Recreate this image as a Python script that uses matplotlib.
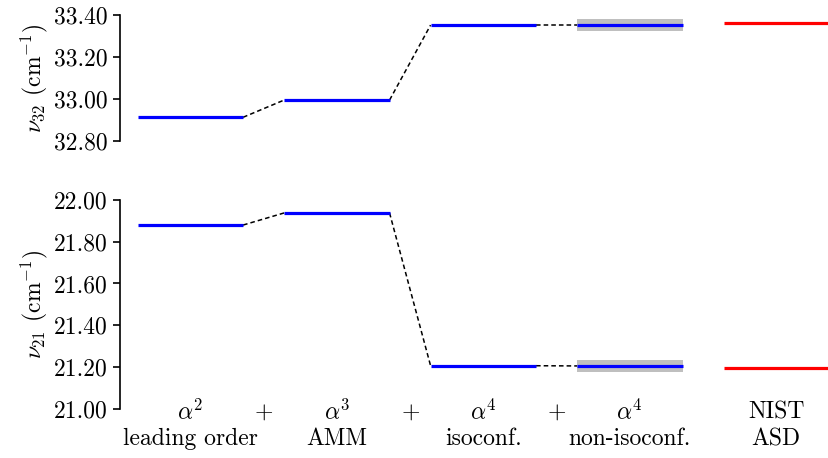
import matplotlib
matplotlib.use("Agg")
import matplotlib.pyplot as plt
from matplotlib.transforms import blended_transform_factory

plt.rcParams.update({
    "font.family": "serif",
    "font.serif": ["cmr10"],
    "mathtext.fontset": "cm",
    "axes.formatter.use_mathtext": True,
    "font.size": 17,
})

# Contributions to the transition frequencies (cm^-1)
stage_orders = ["$\\alpha^2$", "$\\alpha^3$", "$\\alpha^4$", "$\\alpha^4$", "NIST"]
stage_names = ["leading order", "AMM", "isoconf.", "non-isoconf.", "ASD"]
nu32_theory = [32.913, 32.995, 33.352, 33.352]
nu21_theory = [21.880, 21.938, 21.206, 21.205]
nu32_unc = 0.030
nu21_unc = 0.030
nu32_nist = 33.363
nu21_nist = 21.195

half = 0.36

fig = plt.figure(figsize=(8.29, 4.58), dpi=100)
ax_top = fig.add_axes([0.1448, 0.6921, 0.8552, 0.2751])
ax_bot = fig.add_axes([0.1448, 0.1076, 0.8552, 0.4557])


def draw_panel(ax, theory, unc, nist, ylim, yticks, ylabel):
    xs = list(range(len(theory)))
    # gray uncertainty band on the final theory value
    ax.fill_between([xs[-1] - half, xs[-1] + half], theory[-1] - unc, theory[-1] + unc,
                    color="#bfbfbf", lw=0, zorder=1)
    for i, v in enumerate(theory):
        ax.plot([i - half, i + half], [v, v], color="blue", lw=2.3,
                solid_capstyle="butt", zorder=3)
    for i in range(len(theory) - 1):
        ax.plot([i + half, i + 1 - half], [theory[i], theory[i + 1]],
                color="black", lw=1.1, ls=(0, (3, 2)), zorder=2)
    n = len(theory)
    ax.plot([n - half, n + half], [nist, nist], color="red", lw=2.3,
            solid_capstyle="butt", zorder=3)
    ax.set_xlim(-0.48, 4.36)
    ax.set_ylim(*ylim)
    ax.set_yticks(yticks)
    ax.set_yticklabels([f"{t:.2f}" for t in yticks])
    ax.set_xticks([])
    for s in ("top", "right", "bottom"):
        ax.spines[s].set_visible(False)
    ax.spines["left"].set_linewidth(1.2)
    ax.tick_params(axis="y", direction="out", length=5, width=1.2, pad=4)
    ax.set_ylabel(ylabel)
    ax.yaxis.set_label_coords(-0.099, 0.5)


draw_panel(ax_top, nu32_theory, nu32_unc, nu32_nist, (32.80, 33.40),
           [32.80, 33.00, 33.20, 33.40], "$\\nu_{32}$ (cm$^{-1}$)")
draw_panel(ax_bot, nu21_theory, nu21_unc, nu21_nist, (21.00, 22.00),
           [21.00, 21.20, 21.40, 21.60, 21.80, 22.00], "$\\nu_{21}$ (cm$^{-1}$)")

# two-line category labels under the lower panel, with "+" between the orders
trans = blended_transform_factory(ax_bot.transData, ax_bot.transAxes)
for i, (order, name) in enumerate(zip(stage_orders, stage_names)):
    ax_bot.text(i, -0.049, order, transform=trans, ha="center", va="baseline", clip_on=False)
    ax_bot.text(i, -0.174, name, transform=trans, ha="center", va="baseline", clip_on=False)
for xp in (0.5, 1.5, 2.5):
    ax_bot.text(xp, -0.049, "$+$", transform=trans, ha="center", va="baseline", clip_on=False)

fig.savefig("out.png", dpi=100)
